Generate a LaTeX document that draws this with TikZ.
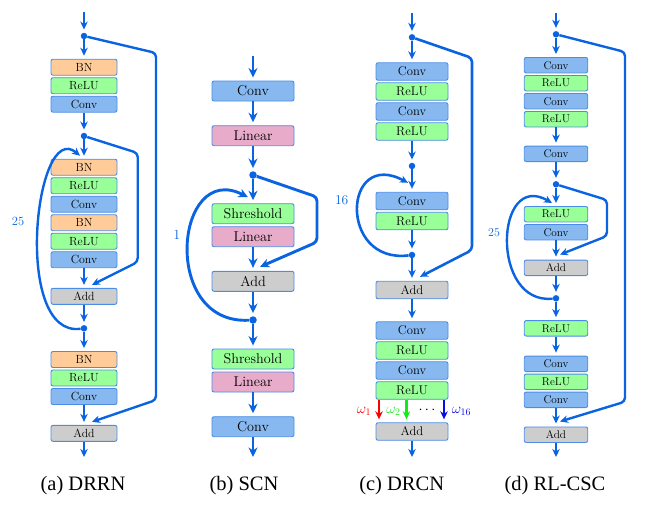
\documentclass[tikz,border=0pt]{standalone}
\usepackage{fontspec}
\newfontfamily\capfont{Liberation Serif}
\usetikzlibrary{arrows.meta,calc}
\definecolor{lc}{RGB}{10,100,225}
\definecolor{bordc}{RGB}{75,140,230}
\definecolor{bnc}{RGB}{255,204,153}
\definecolor{reluc}{RGB}{153,255,153}
\definecolor{convc}{RGB}{135,185,240}
\definecolor{linc}{RGB}{232,172,202}
\definecolor{addc}{RGB}{205,205,205}
\definecolor{wred}{RGB}{255,0,0}
\definecolor{wgreen}{RGB}{20,235,20}
\definecolor{wblue}{RGB}{10,10,235}
\begin{document}
\begin{tikzpicture}[x=1pt,y=-1pt,
  blk/.style={draw=bordc, line width=0.9pt, rounded corners=2pt, inner sep=0pt},
  bn/.style={fill=bnc}, relu/.style={fill=reluc}, conv/.style={fill=convc},
  lin/.style={fill=linc}, add/.style={fill=addc},
  boxa/.style={blk, minimum width=66pt, minimum height=16pt, font=\fontsize{11.8}{12}\selectfont},
  boxb/.style={blk, minimum width=82pt, minimum height=20pt, font=\fontsize{14.2}{16}\selectfont},
  boxc/.style={blk, minimum width=72pt, minimum height=17.5pt, font=\fontsize{12.6}{14}\selectfont},
  boxd/.style={blk, minimum width=63.5pt, minimum height=15.5pt, font=\fontsize{11.2}{12}\selectfont},
  dot/.style={circle, fill=lc, inner sep=0pt, minimum size=6.5pt},
  tipst/.style={-{Stealth[length=8pt,width=7.5pt,inset=2.5pt]}},
  flow/.style={draw=lc, line width=2.4pt, tipst, shorten >=3pt},
  back/.style={draw=lc, line width=2.4pt, tipst, rounded corners=4pt},
  lab/.style={text=lc, font=\fontsize{12.5}{13}\selectfont},
  captext/.style={anchor=base, font=\capfont\fontsize{20.5}{24}\selectfont},
  wt/.style={line width=2.4pt, -{Stealth[length=8pt,width=7.5pt,inset=2.5pt]}, shorten >=3pt},
  wlab/.style={font=\fontsize{14.5}{15}\selectfont}
]
\useasboundingbox (0,0) rectangle (653,512);

% ---------------- (a) DRRN ----------------
\begin{scope}
\coordinate (ain) at (84,12);
\node[dot] (ad1) at (84,36) {};
\node[boxa,bn] (aB1) at (84,67.2) {BN};
\node[boxa,relu] (aR1) at (84,85.7) {ReLU};
\node[boxa,conv] (aC1) at (84,104.2) {Conv};
\node[dot] (ad2) at (84,136) {};
\node[boxa,bn] (aB2) at (84,167.2) {BN};
\node[boxa,relu] (aR2) at (84,185.7) {ReLU};
\node[boxa,conv] (aC2) at (84,204.2) {Conv};
\node[boxa,bn] (aB3) at (84,222.7) {BN};
\node[boxa,relu] (aR3) at (84,241.2) {ReLU};
\node[boxa,conv] (aC3) at (84,259.7) {Conv};
\node[boxa,add] (aA1) at (84,296.3) {Add};
\node[dot] (ad3) at (84,328.3) {};
\node[boxa,bn] (aB4) at (84,359.5) {BN};
\node[boxa,relu] (aR4) at (84,378) {ReLU};
\node[boxa,conv] (aC4) at (84,396.5) {Conv};
\node[boxa,add] (aA2) at (84,433.3) {Add};
\coordinate (aout) at (84,460);
\draw[flow] (ain) -- (ad1);
\draw[flow] (ad1) -- (aB1);
\draw[flow] (aC1) -- (ad2);
\draw[flow] (ad2) -- (aB2);
\draw[flow] (aC3) -- (aA1);
\draw[flow] (aA1) -- (ad3);
\draw[flow] (ad3) -- (aB4);
\draw[flow] (aC4) -- (aA2);
\draw[flow] (aA2) -- (aout);
\draw[back] (ad1) -- (156,53) -- (156,400) -- ($(aA2.north)+(8,-3)$);
\draw[back] (ad2) -- (137.7,153) -- (137.7,262) -- ($(aA1.north)+(8,-3)$);
\draw[back] (ad3) .. controls (12,338) and (35,118) .. ($(aB2.north)+(-4,-3)$);
\node[lab] (a25) at (18,221) {25};
\node[captext] (capa) at (83,490.7) {(a) DRRN};
\end{scope}

% ---------------- (b) SCN ----------------
\begin{scope}[flow/.append style={line width=2.9pt}, back/.append style={line width=2.9pt},
  tipst/.style={-{Stealth[length=9.5pt,width=9pt,inset=3pt]}}]
\coordinate (bin) at (253,56);
\node[boxb,conv] (bC1) at (253,91) {Conv};
\node[boxb,lin] (bL1) at (253,135.7) {Linear};
\node[dot, minimum size=7.5pt] (bd1) at (253,175) {};
\node[boxb,relu] (bS1) at (253,213.7) {Shreshold};
\node[boxb,lin] (bL2) at (253,236.7) {Linear};
\node[boxb,add] (bA) at (253,281.3) {Add};
\node[dot, minimum size=7.5pt] (bd2) at (253,320) {};
\node[boxb,relu] (bS2) at (253,359) {Shreshold};
\node[boxb,lin] (bL3) at (253,382) {Linear};
\node[boxb,conv] (bC2) at (253,426.7) {Conv};
\coordinate (bout) at (253,460);
\draw[flow] (bin) -- (bC1);
\draw[flow] (bC1) -- (bL1);
\draw[flow] (bL1) -- (bd1);
\draw[flow] (bd1) -- (bS1);
\draw[flow] (bL2) -- (bA);
\draw[flow] (bA) -- (bd2);
\draw[flow] (bd2) -- (bS2);
\draw[flow] (bL3) -- (bC2);
\draw[flow] (bC2) -- (bout);
\draw[back] (bd1) -- (317,197) -- (317,242) -- ($(bA.north)+(7,-4)$);
\draw[back] (bd2) .. controls (160,325) and (175,160) .. ($(bS1.north)+(-5,-6)$);
\node[lab, font=\fontsize{14}{15}\selectfont] (b1) at (176.7,235) {1};
\node[captext] (capb) at (244,490.7) {(b) SCN};
\end{scope}

% ---------------- (c) DRCN ----------------
\begin{scope}[flow/.append style={line width=2.6pt}, back/.append style={line width=2.6pt}]
\coordinate (cin) at (412,13);
\node[dot] (cd1) at (412,37.3) {};
\node[boxc,conv] (cC1) at (412,71.5) {Conv};
\node[boxc,relu] (cR1) at (412,91.5) {ReLU};
\node[boxc,conv] (cC2) at (412,111.5) {Conv};
\node[boxc,relu] (cR2) at (412,131.5) {ReLU};
\node[dot] (cd2) at (412,166) {};
\node[boxc,conv] (cC3) at (412,201) {Conv};
\node[boxc,relu] (cR3) at (412,221) {ReLU};
\node[dot] (cd3) at (412,255) {};
\node[boxc,add] (cA1) at (412,290) {Add};
\node[boxc,conv] (cC4) at (412,330.5) {Conv};
\node[boxc,relu] (cR4) at (412,350.5) {ReLU};
\node[boxc,conv] (cC5) at (412,370.5) {Conv};
\node[boxc,relu] (cR5) at (412,390.5) {ReLU};
\node[boxc,add] (cA2) at (412,431.5) {Add};
\coordinate (cout) at (412,460);
\draw[flow] (cin) -- (cd1);
\draw[flow] (cd1) -- (cC1);
\draw[flow] (cR2) -- (cd2);
\draw[flow] (cd2) -- (cC3);
\draw[flow] (cR3) -- (cd3);
\draw[flow] (cd3) -- (cA1);
\draw[flow] (cA1) -- (cC4);
\draw[flow] (cA2) -- (cout);
\draw[back] (cd1) -- (472,58) -- (472,250) -- ($(cA1.north)+(8,-4)$);
\draw[back] (cd3) .. controls (338,264) and (343,148) .. ($(cC3.north)+(-4,-9)$);
\draw[wt, wred] ([xshift=-33pt]cR5.south) -- ([xshift=-33pt]cA2.north);
\draw[wt, wgreen] ([xshift=-5.5pt]cR5.south) -- ([xshift=-5.5pt]cA2.north);
\draw[wt, wblue] ([xshift=32pt]cR5.south) -- ([xshift=32pt]cA2.north);
\node[wlab, text=wred] (w1) at (364,411) {$\omega_1$};
\node[wlab, text=wgreen] (w2) at (393.5,411) {$\omega_2$};
\node[wlab] (wdots) at (427,410) {$\cdots$};
\node[wlab, text=wblue] (w16) at (461.5,411) {$\omega_{16}$};
\node[lab, font=\fontsize{13.5}{14}\selectfont] (c16) at (341.7,200) {16};
\node[captext] (capc) at (401.7,490.7) {(c) DRCN};
\end{scope}

% ---------------- (d) RL-CSC ----------------
\begin{scope}
\coordinate (din) at (556,13);
\node[dot] (dd1) at (556,34.3) {};
\node[boxd,conv] (dC1) at (556,65.2) {Conv};
\node[boxd,relu] (dR1) at (556,83.2) {ReLU};
\node[boxd,conv] (dC2) at (556,101.2) {Conv};
\node[boxd,relu] (dR2) at (556,119.2) {ReLU};
\node[boxd,conv] (dC3) at (556,153.8) {Conv};
\node[dot] (dd2) at (556,184.3) {};
\node[boxd,relu] (dR3) at (556,214.2) {ReLU};
\node[boxd,conv] (dC4) at (556,232.2) {Conv};
\node[boxd,add] (dA1) at (556,267.8) {Add};
\node[dot] (dd3) at (556,298.3) {};
\node[boxd,relu] (dR4) at (556,328.3) {ReLU};
\node[boxd,conv] (dC5) at (556,363.8) {Conv};
\node[boxd,relu] (dR5) at (556,381.8) {ReLU};
\node[boxd,conv] (dC6) at (556,399.8) {Conv};
\node[boxd,add] (dA2) at (556,434.7) {Add};
\coordinate (dout) at (556,460);
\draw[flow] (din) -- (dd1);
\draw[flow] (dd1) -- (dC1);
\draw[flow] (dR2) -- (dC3);
\draw[flow] (dC3) -- (dd2);
\draw[flow] (dd2) -- (dR3);
\draw[flow] (dC4) -- (dA1);
\draw[flow] (dA1) -- (dd3);
\draw[flow] (dd3) -- (dR4);
\draw[flow] (dR4) -- (dC5);
\draw[flow] (dC6) -- (dA2);
\draw[flow] (dA2) -- (dout);
\draw[back] (dd1) -- (625,52) -- (625,401.7) -- ($(dA2.north)+(4,-5)$);
\draw[back] (dd2) -- (607,200) -- (607,236) -- ($(dA1.north)+(4,-5)$);
\draw[back] (dd3) .. controls (490,305) and (495,170) .. ($(dR3.north)+(-4,-3)$);
\node[lab, font=\fontsize{12}{13}\selectfont] (d25) at (494,233) {25};
\node[captext] (capd) at (555,490.7) {(d) RL-CSC};
\end{scope}
\end{tikzpicture}
\end{document}
